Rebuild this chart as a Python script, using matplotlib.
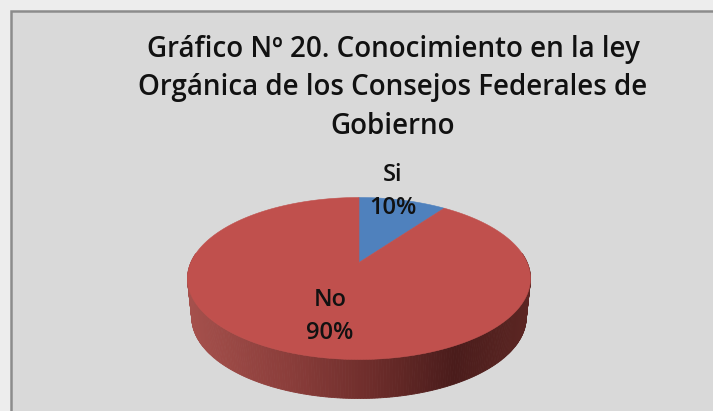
import numpy as np
import matplotlib
matplotlib.use("Agg")
import matplotlib.pyplot as plt
from matplotlib.colors import LinearSegmentedColormap
from matplotlib.patches import Rectangle

categories = ["Si", "No"]
values = [10, 90]
title_lines = ["Gráfico Nº 20. Conocimiento en la ley",
               "Orgánica de los Consejos Federales de",
               "Gobierno"]
colors = ["#4F81BD", "#C0504D"]

W, H = 713, 411
fig = plt.figure(figsize=(W / 100, H / 100), dpi=100, facecolor="#EDEDED")
ax = fig.add_axes([0, 0, 1, 1])
ax.set_xlim(0, W)
ax.set_ylim(H, 0)
ax.axis("off")

# chart panel
ax.add_patch(Rectangle((11, 11), W + 20, H + 20, facecolor="#D9D9D9",
                       edgecolor="#8C8C8C", linewidth=1.8, zorder=1))

# perspective view of a flat disc: apex, back and front radii in pixels
cx, cy = 359.0, 262.5
back, front = 65.0, 97.0
half_width = 171.5
depth = 39.0
k = (front - back) / (front + back)
c = back * (1 + k)
a = half_width * np.sqrt(1 - k ** 2)


def rim(theta):
    """Clockwise angle from 12 o'clock to pixel coordinates on the top rim."""
    u, v = np.sin(theta), np.cos(theta)
    d = 1 + k * v
    return cx + a * u / d, cy - c * v / d


def lower(x, y):
    return cx + (x - cx) * 0.975, y + depth


# side wall with its horizontal shading
shade = LinearSegmentedColormap.from_list(
    "wall", [(0.0, "#A5504C"), (0.3, "#8A3D3A"), (0.55, "#6C2C2A"),
             (0.78, "#4A1C1B"), (1.0, "#5C2623")])
th = np.linspace(np.pi / 2 - 0.12, 3 * np.pi / 2 + 0.12, 240)
xs, ys = rim(th)
xl, yl = lower(xs, ys)
for i in range(len(th) - 1):
    t = (xs[i] + xs[i + 1] - 2 * (cx - half_width)) / (4 * half_width)
    ax.fill([xs[i], xs[i + 1], xl[i + 1], xl[i]],
            [ys[i], ys[i + 1], yl[i + 1], yl[i]],
            color=shade(t), linewidth=0.6, zorder=2)

# top face: wedges sized from the values
start = 0.0
total = sum(values)
for val, col in zip(values, colors):
    sweep = 2 * np.pi * val / total
    t = np.linspace(start, start + sweep, 200)
    x, y = rim(t)
    ax.fill(np.r_[cx, x], np.r_[cy, y], color=col, linewidth=0.4, zorder=3)
    start += sweep

# data labels
font = ["Open Sans", "DejaVu Sans"]
label_pos = [(393, 191), (330, 316)]
for name, val, (lx, ly) in zip(categories, values, label_pos):
    ax.text(lx, ly, f"{name}\n{val}%", ha="center", va="center", fontsize=17,
            family=font, color="#111111", fontweight="semibold",
            linespacing=1.5, zorder=5)

# title
for line, ty in zip(title_lines, [50, 88, 126]):
    ax.text(393, ty, line, ha="center", va="center", fontsize=20,
            family=font, color="#111111", fontweight="semibold", zorder=5)

fig.savefig("out.png", dpi=100, facecolor=fig.get_facecolor())
